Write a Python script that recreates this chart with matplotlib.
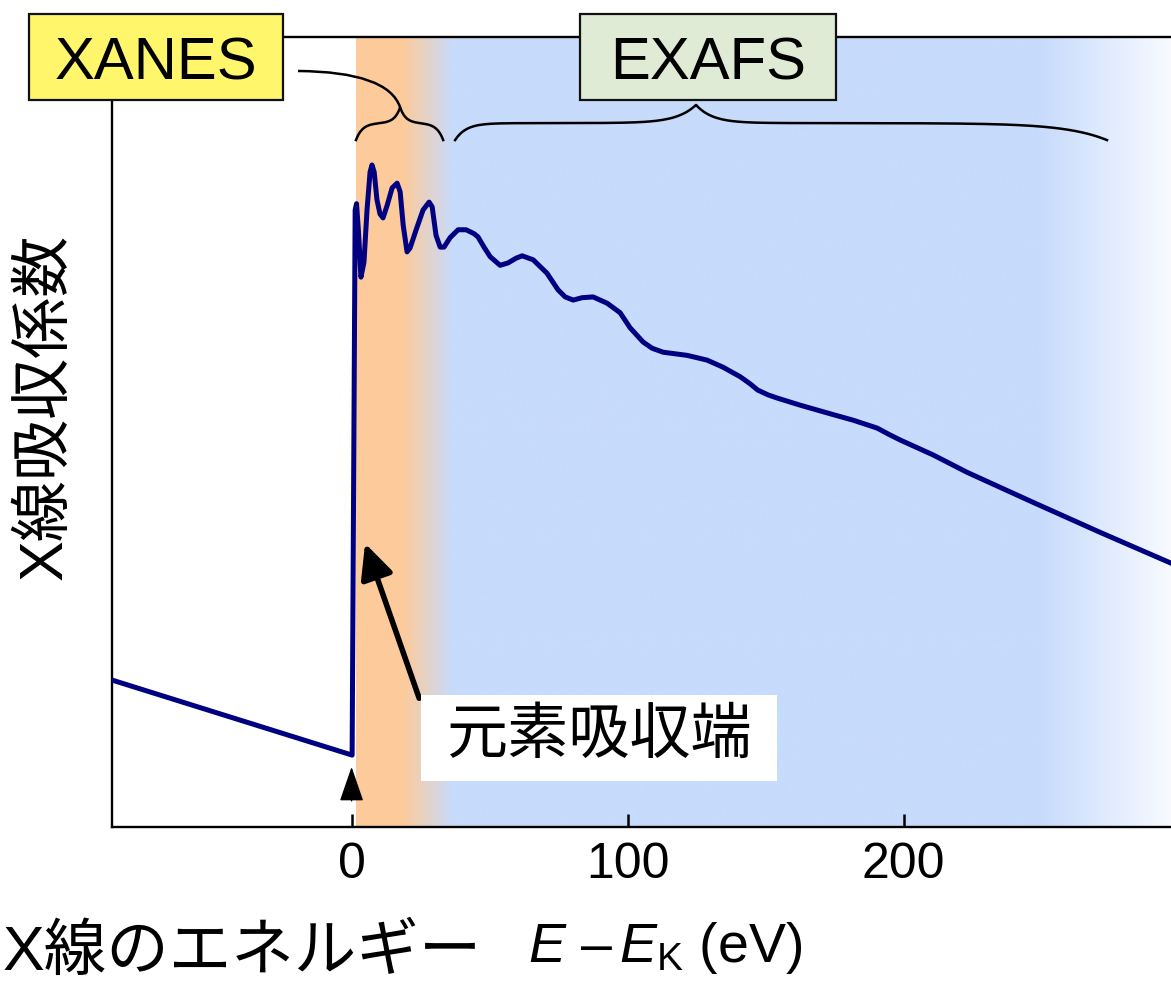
import numpy as np
import matplotlib
matplotlib.use('Agg')
import matplotlib.pyplot as plt
from matplotlib.patches import Rectangle, PathPatch
from matplotlib.path import Path
from matplotlib.colors import to_rgb

plt.rcParams['font.family'] = ['Liberation Sans', 'Noto Sans CJK JP']
plt.rcParams['mathtext.fontset'] = 'custom'
plt.rcParams['mathtext.rm'] = 'Liberation Sans'
plt.rcParams['mathtext.it'] = 'Liberation Sans:italic'

# X-ray absorption spectrum around the K edge (arbitrary units)
energy = [-86.8, 0.2, 1.3, 1.8, 2.5, 3.4, 4.5, 5.6, 6.7, 7.4, 8.2, 9.2, 10.3, 11.4,
          12.9, 14.7, 16.5, 17.6, 18.7, 20.1, 21.2, 23.4, 25.9, 28.1, 29.2, 30.6,
          32.1, 33.5, 35.7, 38.6, 41.5, 44.4, 45.8, 48.0, 50.2, 53.8, 56.7, 59.6,
          61.8, 65.8, 70.8, 74.8, 77.4, 80.3, 83.5, 87.5, 92.6, 97.3, 100.9, 105.6,
          108.9, 112.9, 121.6, 128.8, 134.6, 140.8, 144.4, 147.2, 150.9, 154.2,
          162.5, 174.5, 181.7, 190.4, 194.7, 198.7, 210.7, 223.0, 246.9, 271.2, 296.9]
absorb = [18.6, 9.1, 78.1, 78.9, 75.4, 69.6, 71.5, 78.1, 82.9, 83.8, 82.9, 79.4, 77.6, 77.1,
          78.7, 80.9, 81.5, 80.4, 76.2, 72.8, 73.3, 75.6, 78.1, 79.1, 78.5, 74.9,
          73.4, 73.4, 74.6, 75.6, 75.6, 75.1, 74.7, 73.4, 72.2, 71.1, 71.4, 72.0,
          72.3, 71.8, 70.1, 68.0, 67.1, 66.7, 67.0, 67.1, 66.3, 65.1, 63.2, 61.4,
          60.6, 60.1, 59.7, 59.1, 58.2, 57.0, 56.1, 55.3, 54.7, 54.3,
          53.4, 52.2, 51.5, 50.5, 49.7, 49.0, 47.1, 44.9, 41.1, 37.3, 33.4]

xticks = [0, 100, 200]
x_range = (-86.8, 296.9)

# background colour stops: edge -> XANES (orange) -> EXAFS (blue) -> fade out
bg_stops = [1.5, 18.5, 36.6, 249.0, 296.9]
bg_colors = ['#FDCB9B', '#FDCB9B', '#C7DBFC', '#C7DBFC', '#F8FAFF']

W, H = 1171, 982
fig = plt.figure(figsize=(W / 100, H / 100), dpi=100)
ax = fig.add_axes([112 / W, (H - 827) / H, (W - 112) / W, (827 - 37) / H])

# gradient band behind the spectrum
xs = np.linspace(bg_stops[0], bg_stops[-1], 800)
rgb = np.array([to_rgb(c) for c in bg_colors])
band = np.stack([np.interp(xs, bg_stops, rgb[:, k]) for k in range(3)], axis=-1)
ax.imshow(band[np.newaxis, :, :], extent=[bg_stops[0], bg_stops[-1], 0, 100],
          aspect='auto', zorder=0, interpolation='bilinear')

ax.plot(energy, absorb, color='#000080', lw=3.6, solid_joinstyle='round', zorder=3)

ax.set_xlim(*x_range)
ax.set_ylim(0, 100)
ax.set_xticks(xticks)
ax.set_yticks([])
ax.tick_params(axis='x', direction='in', length=9.5, width=1.8, pad=11, labelsize=36)
ax.spines['right'].set_visible(False)
for s in ['left', 'bottom', 'top']:
    ax.spines[s].set_linewidth(1.7)


def brace(ax, e0, ec, e1, y0, drop, rise, w0, wc0, wc1, w1):
    # curly brace: ends curl down, sharp point at ec
    xl = np.linspace(e0, ec, 80)
    yl = y0 - drop * np.exp(-(xl - e0) / w0) + rise * np.exp(-(ec - xl) / wc0)
    xr = np.linspace(ec, e1, 160)
    yr = y0 - drop * np.exp(-(e1 - xr) / w1) + rise * np.exp(-(xr - ec) / wc1)
    ax.plot(np.r_[xl, xr], np.r_[yl, yr], color='k', lw=1.8, zorder=4)


brace(ax, 1.6, 17.6, 33.2, 89.1, 2.15, 2.0, 2.3, 2.0, 2.0, 2.3)
brace(ax, 37.5, 124.8, 273.7, 89.1, 2.15, 2.3, 4.0, 7.0, 6.0, 15.0)

# leader from the XANES brace to its label
lead = Path([(17.6, 91.1), (13.2, 95.6), (-19.4, 95.7)],
            [Path.MOVETO, Path.CURVE3, Path.CURVE3])
ax.add_patch(PathPatch(lead, fc='none', ec='k', lw=1.8, zorder=4))

# absorption edge marker and label
ax.annotate('', xy=(0, 7.6), xytext=(0, 3.3),
            arrowprops=dict(arrowstyle='-|>,head_length=1.1,head_width=0.38',
                            mutation_scale=20, lw=1, color='k',
                            shrinkA=0, shrinkB=0), zorder=4)
ax.annotate('', xy=(4.9, 35.9), xytext=(24.5, 16.3),
            arrowprops=dict(arrowstyle='-|>,head_length=1.05,head_width=0.5',
                            mutation_scale=20, lw=4, color='k',
                            shrinkA=0, shrinkB=0), zorder=4)
ax.add_patch(Rectangle((25.2, 5.8), 129.0, 10.9, fc='white', ec='none', zorder=5))
ax.text(89.7, 11.3, '元素吸収端', fontsize=44, ha='center', va='center', zorder=6)

# region labels
for x0, x1, fc, label in [(29, 283, '#FFF66B', 'XANES'), (580, 835.5, '#DFEBD5', 'EXAFS')]:
    fig.add_artist(Rectangle((x0 / W, 1 - 100 / H), (x1 - x0) / W, 86 / H,
                             transform=fig.transFigure, fc=fc, ec='#111111', lw=1.6))
    fig.text((x0 + x1) / 2 / W, 1 - 79 / H, label, fontsize=43,
             ha='center', va='baseline')

# axis titles
fig.text(46 / W, 1 - 407 / H, 'X線吸収係数', fontsize=44, rotation=90,
         ha='center', va='center')
fig.text(3 / W, 1 - 970 / H, 'X線のエネルギー', fontsize=45, ha='left', va='baseline')
fig.text(528 / W, 1 - 962 / H, r'$E$ –$\,E_{\mathrm{K}}$ (eV)', fontsize=40,
         ha='left', va='baseline')

fig.savefig('out.png', dpi=100)
